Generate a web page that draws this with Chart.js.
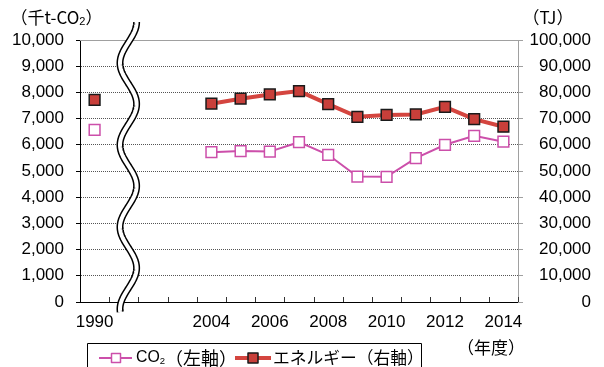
<!DOCTYPE html>
<html>
<head>
<meta charset="utf-8">
<script src="https://cdn.jsdelivr.net/npm/chart.js@4/dist/chart.umd.min.js"></script>
<style>
  html, body { margin: 0; padding: 0; background: #fff; }
  #wrap { width: 604px; height: 367px; position: relative; }
</style>
</head>
<body>
<div id="wrap"><canvas id="chart" width="604" height="367"></canvas></div>
<script>
// Fiscal years (blank slots form the gap between 1990 and 2004)
const years = ['1990', '', '', '', '2004', '2005', '2006', '2007', '2008', '2009', '2010', '2011', '2012', '2013', '2014'];
// Labels printed under the axis
const yearLabels = ['1990', '', '', '', '2004', '', '2006', '', '2008', '', '2010', '', '2012', '', '2014'];
// CO2 emissions (thousand t-CO2, left axis)
const co2Values = [6570, null, null, null, 5720, 5760, 5740, 6100, 5620, 4790, 4780, 5490, 6000, 6340, 6120];
// Energy consumption (TJ, right axis)
const energyValues = [77100, null, null, null, 75700, 77600, 79200, 80500, 75500, 70700, 71400, 71600, 74500, 69800, 66900];
// Axis ranges
const co2Axis = { min: 0, max: 10000, step: 1000 };
const energyAxis = { min: 0, max: 100000, step: 10000 };

const CO2_COLOR = '#CC4FAA';
const ENERGY_LINE = '#D4453F';
const ENERGY_FILL = '#C83F3A';
const NUM_FONT = '"Liberation Sans", "Noto Sans CJK JP", sans-serif';
const JP_FONT = '"Noto Sans CJK JP", "Liberation Sans", sans-serif';

const fmt = v => Number(v).toLocaleString('en-US');

// Measures the inked extent of a list of text runs at scale k
function measureRuns(ctx, runs, k) {
  let adv = 0, left = 0, right = 0;
  runs.forEach((r, i) => {
    ctx.font = (r.size * k) + 'px ' + (r.family || JP_FONT);
    const m = ctx.measureText(r.t);
    if (i === 0) left = -m.actualBoundingBoxLeft;
    if (i === runs.length - 1) right = adv + m.actualBoundingBoxRight;
    adv += m.width;
  });
  return { left, right };
}

function paintRuns(ctx, runs, k, x, y) {
  ctx.textBaseline = 'middle';
  ctx.textAlign = 'left';
  let cx = x;
  for (const r of runs) {
    ctx.font = (r.size * k) + 'px ' + (r.family || JP_FONT);
    ctx.fillText(r.t, cx, y + (r.dy || 0) * k);
    cx += ctx.measureText(r.t).width;
  }
}

// Text runs scaled so the ink spans inkLeft..inkRight
function drawFitted(ctx, runs, inkLeft, inkRight, y) {
  let k = 1;
  for (let it = 0; it < 3; it++) {
    const m = measureRuns(ctx, runs, k);
    k *= (inkRight - inkLeft) / (m.right - m.left);
  }
  const m = measureRuns(ctx, runs, k);
  paintRuns(ctx, runs, k, inkLeft - m.left, y);
}

// Text runs at their own size, ink centred on cx
function drawCentered(ctx, runs, cx, y) {
  const m = measureRuns(ctx, runs, 1);
  paintRuns(ctx, runs, 1, cx - (m.left + m.right) / 2, y);
}

const decor = {
  id: 'decor',
  beforeDatasetsDraw(chart) {
    const { ctx, chartArea: a } = chart;
    ctx.save();
    // plot frame top edge
    ctx.strokeStyle = '#a0a0a0';
    ctx.lineWidth = 1;
    ctx.beginPath();
    ctx.moveTo(a.left, a.top + 0.5);
    ctx.lineTo(a.right, a.top + 0.5);
    ctx.stroke();
    // inner tick marks on the category boundaries
    const w = (a.right - a.left) / years.length;
    ctx.strokeStyle = '#333';
    ctx.beginPath();
    for (let i = 1; i <= years.length; i++) {
      const px = Math.round(a.left + i * w) + 0.5;
      ctx.moveTo(px, a.bottom);
      ctx.lineTo(px, a.bottom - 5);
    }
    ctx.stroke();
    ctx.restore();
  },
  afterDraw(chart) {
    const { ctx } = chart;
    const xs = chart.scales.x;
    ctx.save();

    // wavy double break line between 1990 and 2004
    const cx = xs.getPixelForValue(1) + 4.5;
    const amp = 8.3, period = 82, y0 = 63;
    const path = () => {
      ctx.beginPath();
      for (let y = 22; y <= 312; y += 1) {
        const x = cx - amp * Math.cos(2 * Math.PI * (y - y0) / period);
        if (y === 22) ctx.moveTo(x, y); else ctx.lineTo(x, y);
      }
    };
    ctx.lineCap = 'butt';
    ctx.lineJoin = 'round';
    path(); ctx.strokeStyle = '#000'; ctx.lineWidth = 7; ctx.stroke();
    path(); ctx.strokeStyle = '#fff'; ctx.lineWidth = 4; ctx.stroke();

    // unit captions
    ctx.fillStyle = '#000';
    drawCentered(ctx, [
      { t: '（千t-CO', size: 17 },
      { t: '2', size: 11, dy: 4, family: NUM_FONT },
      { t: '）', size: 17 }
    ], 56.5, 18);
    drawCentered(ctx, [{ t: '（TJ）', size: 17 }], 548, 18);
    drawCentered(ctx, [{ t: '（年度）', size: 17 }], 491, 348);

    // legend
    const ly = 358;
    ctx.strokeStyle = '#000';
    ctx.lineWidth = 1;
    ctx.strokeRect(87.5, 343.5, 334, 30);

    const ds = chart.data.datasets;
    // CO2 entry
    ctx.strokeStyle = ds[0].borderColor;
    ctx.lineWidth = 2;
    ctx.beginPath(); ctx.moveTo(99, ly); ctx.lineTo(132, ly); ctx.stroke();
    ctx.fillStyle = '#fff';
    ctx.fillRect(111.5, ly - 4.5, 9, 9);
    ctx.lineWidth = 1.5;
    ctx.strokeRect(111.5, ly - 4.5, 9, 9);
    ctx.fillStyle = '#000';
    drawFitted(ctx, [
      { t: 'CO', size: 15, family: NUM_FONT },
      { t: '2', size: 9, dy: 3, family: NUM_FONT },
      { t: '（左軸）', size: 17 }
    ], 136, 225, ly);

    // energy entry
    ctx.strokeStyle = ds[1].borderColor;
    ctx.lineWidth = 4;
    ctx.beginPath(); ctx.moveTo(235, ly); ctx.lineTo(271, ly); ctx.stroke();
    ctx.fillStyle = ds[1].pointBackgroundColor;
    ctx.fillRect(248, ly - 5, 10, 10);
    ctx.strokeStyle = '#1a1a1a';
    ctx.lineWidth = 1.5;
    ctx.strokeRect(248, ly - 5, 10, 10);
    ctx.fillStyle = '#000';
    drawFitted(ctx, [{ t: 'エネルギー（右軸）', size: 16 }], 274, 413, ly);

    ctx.restore();
  }
};

new Chart(document.getElementById('chart'), {
  type: 'line',
  data: {
    labels: years,
    datasets: [
      {
        label: 'CO₂（左軸）',
        data: co2Values,
        yAxisID: 'y',
        borderColor: CO2_COLOR,
        borderWidth: 2,
        pointStyle: 'rect',
        pointRadius: 7.6,
        pointBackgroundColor: '#ffffff',
        pointBorderColor: CO2_COLOR,
        pointBorderWidth: 1.5,
        tension: 0,
        spanGaps: false
      },
      {
        label: 'エネルギー（右軸）',
        data: energyValues,
        yAxisID: 'y2',
        borderColor: ENERGY_LINE,
        borderWidth: 4,
        pointStyle: 'rect',
        pointRadius: 7.6,
        pointBackgroundColor: ENERGY_FILL,
        pointBorderColor: '#1a1a1a',
        pointBorderWidth: 1.5,
        tension: 0,
        spanGaps: false
      }
    ]
  },
  options: {
    responsive: false,
    animation: false,
    layout: { padding: { top: 40, left: 0, right: 13, bottom: 0 } },
    plugins: {
      legend: { display: false },
      tooltip: { enabled: false }
    },
    scales: {
      x: {
        offset: true,
        grid: { display: false, drawTicks: false },
        border: { display: true, color: '#000', width: 1 },
        ticks: {
          autoSkip: false,
          maxRotation: 0,
          padding: 10,
          color: '#000',
          font: { family: NUM_FONT, size: 17 },
          callback: (v, i) => yearLabels[i]
        },
        afterFit: s => { s.height = 65; }
      },
      y: {
        position: 'left',
        min: co2Axis.min,
        max: co2Axis.max,
        grid: {
          color: '#555',
          lineWidth: 1,
          drawTicks: true,
          tickLength: 4,
          tickColor: '#000'
        },
        border: { display: true, color: '#000', width: 1, dash: [1, 1] },
        ticks: {
          stepSize: co2Axis.step,
          padding: 12,
          color: '#000',
          font: { family: NUM_FONT, size: 17 },
          callback: v => fmt(v)
        },
        afterFit: s => { s.width = 80; }
      },
      y2: {
        position: 'right',
        min: energyAxis.min,
        max: energyAxis.max,
        grid: {
          drawOnChartArea: false,
          drawTicks: true,
          tickLength: 5,
          tickColor: '#a0a0a0'
        },
        border: { display: true, color: '#a0a0a0', width: 1 },
        ticks: {
          stepSize: energyAxis.step,
          padding: 7,
          crossAlign: 'far',
          color: '#000',
          font: { family: NUM_FONT, size: 17 },
          callback: v => fmt(v)
        },
        afterFit: s => { s.width = 73; }
      }
    }
  },
  plugins: [decor]
});
</script>
</body>
</html>
